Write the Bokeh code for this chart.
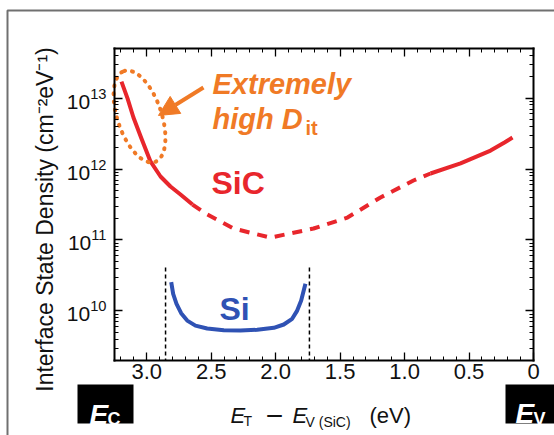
import math
from bokeh.plotting import figure
from bokeh.models import (Range1d, FixedTicker, LinearAxis, LogAxis, LogTicker, Label,
                          Arrow, NormalHead, CustomJSTickFormatter)
from bokeh.embed import file_html
from bokeh.resources import INLINE

# ---------------- data ----------------
sic_solid1_x = [3.196, 3.149, 3.103, 3.041, 2.971, 2.893, 2.816, 2.738, 2.645]
sic_solid1_y = [1.71e13, 9.9e12, 5.32e12, 2.69e12, 1.28e12, 7.85e11, 5.67e11, 4.38e11, 3.16e11]

sic_dash_x = [2.645, 2.544, 2.327, 2.040, 1.706, 1.443, 1.187, 0.931, 0.799]
sic_dash_y = [3.16e11, 2.36e11, 1.45e11, 1.08e11, 1.45e11, 2.07e11, 3.97e11, 6.89e11, 8.65e11]

sic_solid2_x = [0.799, 0.566, 0.333, 0.225, 0.163]
sic_solid2_y = [8.65e11, 1.20e12, 1.82e12, 2.37e12, 2.78e12]

si_x = [2.810, 2.795, 2.769, 2.733, 2.686, 2.622, 2.531, 2.402, 2.273, 2.143,
        2.014, 1.937, 1.872, 1.833, 1.802, 1.769]
si_y = [2.54e10, 1.74e10, 1.26e10, 9.3e9, 7.3e9, 6.2e9, 5.65e9, 5.35e9, 5.3e9, 5.42e9,
        5.78e9, 6.43e9, 7.74e9, 1.01e10, 1.40e10, 2.41e10]

si_gap_edges = [2.854, 1.738]
si_gap_top = 4.09e10

x_start, x_end = 3.25, 0.0          # energy axis (reversed)
y_start, y_end = 2e9, 5e13           # Dit axis (log)
x_ticks = [3.0, 2.5, 2.0, 1.5, 1.0, 0.5, 0.0]
x_tick_labels = ["3.0", "2.5", "2.0", "1.5", "1.0", "0.5", "0"]
x_minor = [i / 10 for i in range(0, 33)]

dit_ellipse_x = 3.056
dit_ellipse_y = 5.5e12
arrow_start = (2.560, 1.41e13)
arrow_end = (2.909, 5.69e12)

RED = "#e8262c"
ORANGE = "#f07a26"
BLUE = "#2f52b4"
FONT = "Liberation Sans"

# ---------------- layout (pixels) ----------------
W, H = 554, 435
BOX_L, BOX_R, BOX_T, BOX_B = 114, 533, 48, 360

xs = (BOX_R - BOX_L) / (x_start - x_end)
x_lo = x_start + BOX_L / xs
x_hi = x_end - (W - BOX_R) / xs
ly0, ly1 = math.log10(y_start), math.log10(y_end)
ys = (BOX_B - BOX_T) / (ly1 - ly0)
ly_hi = ly1 + BOX_T / ys
ly_lo = ly0 - (H - BOX_B) / ys
y_hi, y_lo = 10 ** ly_hi, 10 ** ly_lo


def px2x(px):
    return x_lo + (x_hi - x_lo) * px / W


def px2y(py):
    return 10 ** (ly_hi - (ly_hi - ly_lo) * py / H)


p = figure(width=W, height=H, output_backend="svg", toolbar_location=None,
           x_range=Range1d(x_lo, x_hi), y_range=Range1d(y_lo, y_hi), y_axis_type="log",
           min_border_left=0, min_border_right=0, min_border_top=0, min_border_bottom=0)
p.xgrid.visible = False
p.ygrid.visible = False
p.outline_line_color = None
p.background_fill_color = "white"
p.border_fill_color = "white"

bottom = p.xaxis[0]
left = p.yaxis[0]
top = LinearAxis()
right = LogAxis()
p.add_layout(top, "above")
p.add_layout(right, "right")

fmt = CustomJSTickFormatter(args=dict(vals=x_ticks, labs=x_tick_labels), code="""
    for (let i = 0; i < vals.length; i++) {
        if (Math.abs(vals[i] - tick) < 1e-9) return labs[i];
    }
    return "";
""")
for ax in (bottom, top):
    ax.ticker = FixedTicker(ticks=x_ticks, minor_ticks=x_minor)
    ax.bounds = (x_end, x_start)
bottom.formatter = fmt
bottom.fixed_location = y_start
top.fixed_location = y_end
for ax in (left, right):
    ax.ticker = LogTicker(num_minor_ticks=10)
    ax.bounds = (y_start, y_end)
left.fixed_location = x_start
right.fixed_location = x_end

for ax in (bottom, left, top, right):
    ax.axis_line_color = "black"
    ax.axis_line_width = 2
    ax.axis_line_cap = "square"
    ax.major_tick_in = 8
    ax.major_tick_out = 0
    ax.minor_tick_in = 4
    ax.minor_tick_out = 0
    ax.major_tick_line_color = "black"
    ax.minor_tick_line_color = "black"
    ax.major_tick_line_width = 1.3
    ax.minor_tick_line_width = 1
    ax.major_label_text_font = FONT
    ax.major_label_text_color = "#111111"
bottom.major_label_text_font_size = "22px"
bottom.major_label_standoff = 3
left.major_label_text_font_size = "21px"
left.major_label_standoff = 8
top.major_label_text_color = None
right.major_label_text_color = None

# ---------------- decorations (pixel positions) ----------------
p.line([px2x(7), px2x(7), px2x(700)], [px2y(700), px2y(10), px2y(10)],
       line_color="#707070", line_width=2)
p.quad(left=[px2x(77), px2x(505)], right=[px2x(133), px2x(700)],
       top=[px2y(384), px2y(384)], bottom=[px2y(423), px2y(423)],
       fill_color="black", line_color=None)

# ---------------- glyphs ----------------
p.line(sic_solid1_x, sic_solid1_y, line_color=RED, line_width=4, line_join="round")
p.line(sic_dash_x, sic_dash_y, line_color=RED, line_width=4, line_dash="10 8")
p.line(sic_solid2_x, sic_solid2_y, line_color=RED, line_width=4, line_join="round")
p.line(si_x, si_y, line_color=BLUE, line_width=4, line_join="round")
p.segment(x0=si_gap_edges, y0=[si_gap_top] * 2, x1=si_gap_edges, y1=[y_start] * 2,
          line_color="black", line_width=1.5, line_dash="4 3")

p.ellipse(x=[dit_ellipse_x], y=[dit_ellipse_y], width=96, height=44,
          width_units="screen", height_units="screen", angle=1.897,
          fill_color=None, line_color=ORANGE, line_width=4, line_dash="1 7",
          line_cap="round")
p.add_layout(Arrow(end=NormalHead(size=20, fill_color=ORANGE, line_color=ORANGE),
                   x_start=arrow_start[0], y_start=arrow_start[1],
                   x_end=arrow_end[0], y_end=arrow_end[1],
                   line_color=ORANGE, line_width=4))


def lab(text, x, y, size, color="#111111", style_="normal", align="left",
        baseline="alphabetic", angle=0.0):
    p.add_layout(Label(x=x, y=y, x_units="canvas", y_units="canvas", text=text,
                       text_font=FONT, text_font_size=f"{size}px",
                       text_color=color, text_font_style=style_,
                       text_align=align, text_baseline=baseline, angle=angle))


lab("E", 89, 414, 28, "white", "bold italic")
lab("C", 107, 418, 18, "white", "bold")
lab("E", 515, 413, 28, "white", "bold italic")
lab("V", 533, 418, 18, "white", "bold")

# annotations in plot
lab("Extremely", 212, 83, 29, ORANGE, "bold italic")
lab("high D", 212, 118, 29, ORANGE, "bold italic")
lab("it", 305, 127, 20, ORANGE, "bold")
lab("SiC", 211, 182, 32, RED, "bold")
lab("Si", 219, 308, 32, BLUE, "bold")

# axis titles
lab("E", 230, 415, 22, style_="italic")
lab("T", 243, 420, 14)
lab("\u2212", 274, 415, 30, align="center")
lab("E", 292, 415, 22, style_="italic")
lab("V (SiC)", 305, 421, 14)
lab("(eV)", 369, 415, 22)
lab("Interface State Density (cm\u207b\u00b2eV\u207b\u00b9)", 44, 219, 23,
    align="center", baseline="middle", angle=math.pi / 2)

open("out.html", "w").write(file_html(p, INLINE))
